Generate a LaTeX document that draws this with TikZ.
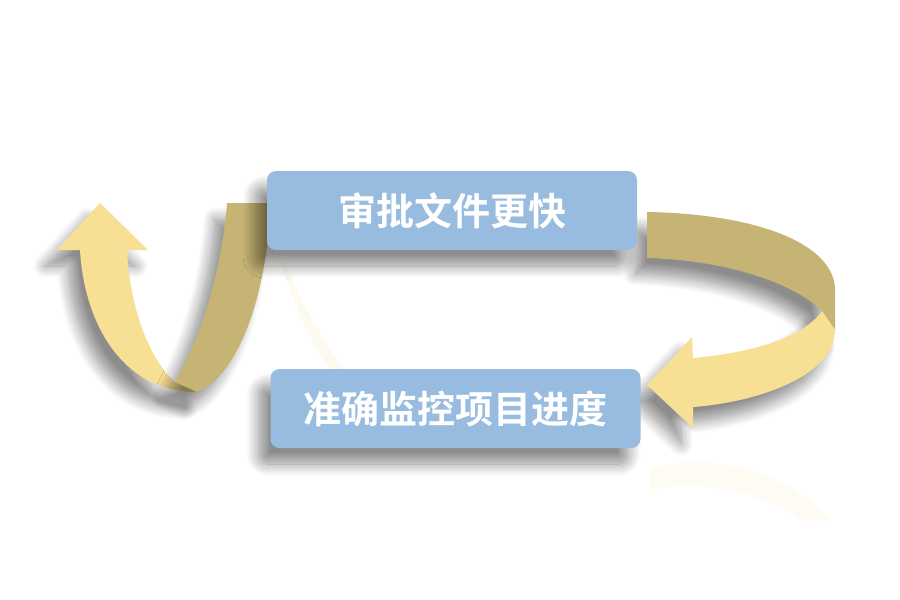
\documentclass[tikz,border=0pt]{standalone}
\usepackage{fontspec}
\newfontfamily\cjk{Noto Sans CJK SC Bold}
\usetikzlibrary{shadows.blur}
\definecolor{boxblue}{HTML}{98BCDF}
\definecolor{darkgold}{HTML}{C6B474}
\definecolor{lightgold}{HTML}{F7DF93}
\tikzset{
  shd/.style={blur shadow={shadow xshift=-12pt, shadow yshift=-16pt, shadow blur radius=12pt, shadow blur steps=14, shadow opacity=45}},
  labelbox/.style={shd, fill=boxblue, rounded corners=9pt, minimum width=370pt, minimum height=79pt, inner sep=0pt, text=white, font=\cjk\fontsize{38}{40}\selectfont},
}
\begin{document}
\begin{tikzpicture}[x=1pt,y=-1pt]
\useasboundingbox (0,0) rectangle (900,600);
% faint reflections
\fill[lightgold, opacity=0.15] (285,262) .. controls (300,300) and (325,345) .. (345,370) -- (330,370) .. controls (310,340) and (292,300) .. (280,262) -- cycle;
\fill[lightgold, opacity=0.12] (650,470) .. controls (700,450) and (790,470) .. (830,520) -- (800,520) .. controls (760,490) and (700,480) .. (650,490) -- cycle;
% right arrow
\fill[darkgold, shd] (647,212) .. controls (760,214) and (835,245) .. (835,290) -- (835,330) -- (822,311) .. controls (790,280) and (720,260) .. (647,258) -- cycle;
\fill[lightgold, shd] (835,330) .. controls (835,375) and (760,402) .. (693,407) -- (693,428) -- (647,385) -- (692,337) -- (693,358) .. controls (760,352) and (805,335) .. (822,311) -- cycle;
% left arrow
\fill[lightgold, shd] (100,203) -- (148,250) -- (127,250) .. controls (130,310) and (150,360) .. (175,382) -- (197,392) .. controls (120,392) and (84,320) .. (80,250) -- (57,250) -- cycle;
\fill[darkgold, shd] (175,382) .. controls (200,340) and (222,270) .. (227,203) -- (270,203) .. controls (268,290) and (240,375) .. (197,392) -- cycle;
% boxes
\node[labelbox] (top) at (452,210.5) {审批文件更快};
\node[labelbox] (bot) at (455.5,408.5) {准确监控项目进度};
\end{tikzpicture}
\end{document}
